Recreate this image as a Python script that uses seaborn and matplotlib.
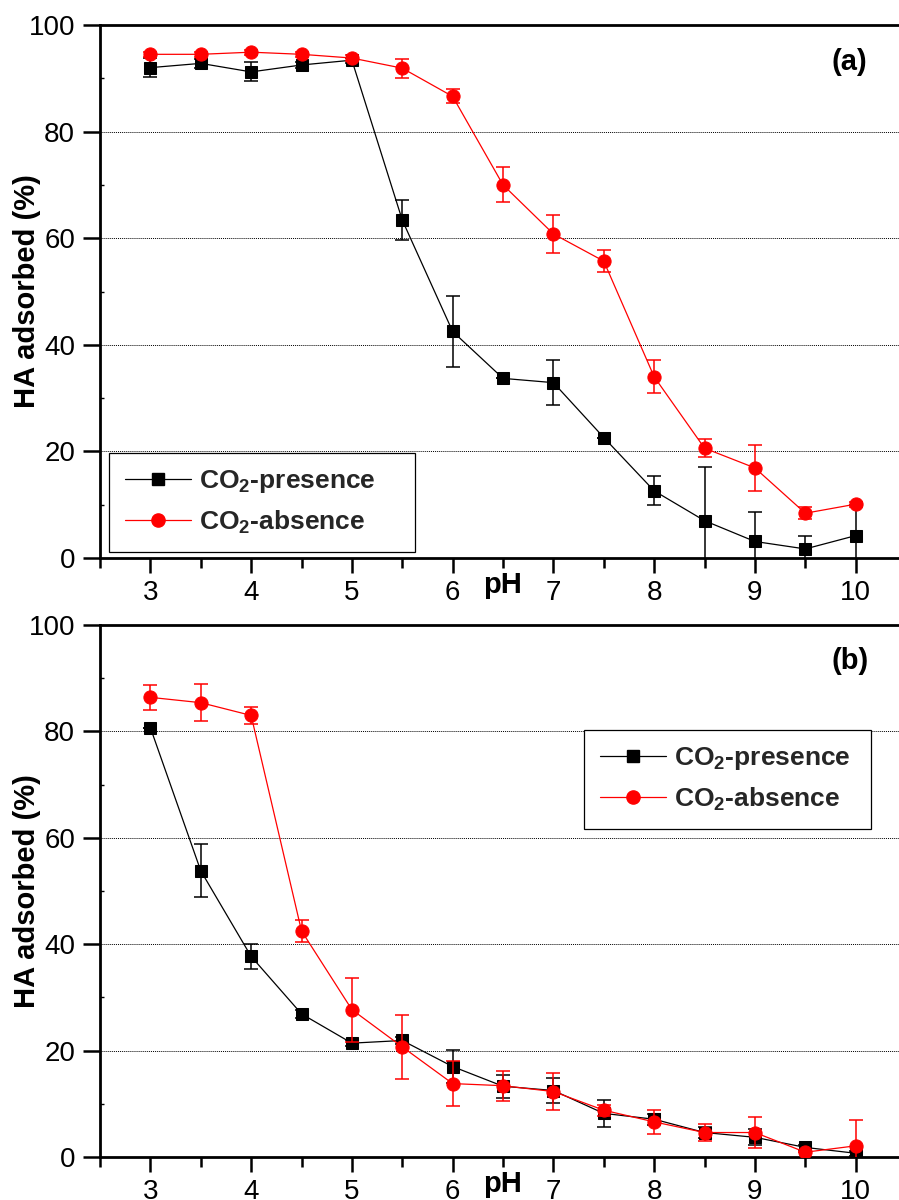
import numpy as np
import matplotlib
matplotlib.use("Agg")
import matplotlib.pyplot as plt
import matplotlib.transforms as mtrans
from matplotlib.lines import Line2D
import seaborn as sns

# ---------------- data ----------------
ph = [3, 3.5, 4, 4.5, 5, 5.5, 6, 6.5, 7, 7.5, 8, 8.5, 9, 9.5, 10]

a_presence = [92.0, 92.8, 91.2, 92.5, 93.4, 63.4, 42.5, 33.7, 32.9, 22.6, 12.6, 7.0, 3.1, 1.7, 4.2]
a_presence_err = [1.8, 0.9, 1.8, 0.6, 0.5, 3.8, 6.6, 0.0, 4.2, 0.0, 2.7, 10.0, 5.5, 2.5, 5.8]
a_absence = [94.5, 94.5, 94.9, 94.5, 93.8, 91.9, 86.6, 70.0, 60.8, 55.7, 34.0, 20.6, 16.9, 8.4, 10.1]
a_absence_err = [0.5, 0.5, 0.5, 0.5, 0.5, 1.8, 1.3, 3.3, 3.5, 2.0, 3.1, 1.7, 4.3, 1.1, 0.5]

b_presence = [80.7, 53.8, 37.7, 26.9, 21.4, 21.9, 17.0, 13.3, 12.5, 8.2, 7.1, 4.6, 3.7, 1.8, 0.7]
b_presence_err = [0.0, 5.0, 2.4, 0.7, 0.6, 0.6, 3.1, 2.2, 2.3, 2.6, 1.0, 1.0, 1.5, 0.5, 0.5]
b_absence = [86.4, 85.4, 83.0, 42.5, 27.7, 20.7, 13.8, 13.4, 12.3, 8.8, 6.6, 4.6, 4.6, 0.9, 2.1]
b_absence_err = [2.3, 3.5, 1.6, 2.0, 6.0, 6.0, 4.2, 2.8, 3.4, 1.0, 2.2, 1.6, 3.0, 0.0, 4.8]

x_ticks = [3, 4, 5, 6, 7, 8, 9, 10]
y_ticks = [0, 20, 40, 60, 80, 100]
series_labels = [r"CO$_\mathbf{2}$-presence", r"CO$_\mathbf{2}$-absence"]
panel_labels = ["(a)", "(b)"]

# ---------------- style ----------------
sns.set_theme(style="ticks")
plt.rcParams["font.family"] = ["Liberation Sans", "DejaVu Sans"]
plt.rcParams["mathtext.fontset"] = "custom"
plt.rcParams["mathtext.rm"] = "Liberation Sans"
plt.rcParams["mathtext.bf"] = "Liberation Sans:bold"
plt.rcParams["axes.edgecolor"] = "black"
plt.rcParams["xtick.color"] = "black"
plt.rcParams["ytick.color"] = "black"

BLACK = "#000000"
RED = "#ff0000"

fig = plt.figure(figsize=(8.99, 12), dpi=100)
W, H = 899.0, 1200.0
ax1 = fig.add_axes([100 / W, 1 - 558 / H, 799 / W, 533 / H])
ax2 = fig.add_axes([100 / W, 1 - 1157 / H, 799 / W, 532 / H])


def style_axes(ax):
    ax.set_xlim(2.5, 10.43)
    ax.set_ylim(0, 100)
    ax.set_xticks(x_ticks)
    ax.set_xticks(np.arange(2.5, 10.5, 0.5), minor=True)
    ax.set_yticks(y_ticks)
    ax.set_yticks([10, 30, 50, 70, 90], minor=True)
    ax.set_xticklabels([str(t) for t in x_ticks])
    ax.set_yticklabels([str(t) for t in y_ticks])
    ax.tick_params(axis="x", which="major", direction="out", length=11, width=1.8,
                   labelsize=20, pad=5)
    ax.tick_params(axis="x", which="minor", direction="out", length=7, width=1.8)
    ax.tick_params(axis="y", which="major", direction="out", length=12, width=1.8,
                   labelsize=20, pad=6)
    ax.tick_params(axis="y", which="minor", direction="in", length=3, width=1.0)
    for s in ["left", "bottom", "top"]:
        ax.spines[s].set_linewidth(2.0)
        ax.spines[s].set_color("black")
    ax.spines["right"].set_visible(False)
    ax.yaxis.grid(True, which="major", linestyle=(0, (1, 1)), color="black", linewidth=0.7)
    ax.xaxis.grid(False)
    ax.set_axisbelow(True)
    ax.set_xlabel("")
    ax.set_ylabel("")
    trans = mtrans.blended_transform_factory(ax.transData, ax.transAxes)
    ax.text(6.5, -0.05, "pH", transform=trans, ha="center", va="center",
            fontsize=21, fontweight="bold", color="black")


def draw(ax, pres, perr, absn, aerr, legend_bbox, plabel, ppos):
    ax.errorbar(ph, pres, yerr=perr, fmt="none", ecolor=BLACK, elinewidth=1.1,
                capsize=5, capthick=1.1, zorder=2)
    sns.lineplot(x=ph, y=pres, ax=ax, color=BLACK, marker="s", markersize=8.7,
                 markeredgecolor=BLACK, linewidth=0.9, zorder=3)
    ax.errorbar(ph, absn, yerr=aerr, fmt="none", ecolor=RED, elinewidth=1.1,
                capsize=5, capthick=1.1, zorder=4)
    sns.lineplot(x=ph, y=absn, ax=ax, color=RED, marker="o", markersize=9.5,
                 markeredgecolor=RED, linewidth=0.9, zorder=5)
    style_axes(ax)
    handles = [
        Line2D([], [], color=BLACK, marker="s", markersize=8.7, linewidth=0.9),
        Line2D([], [], color=RED, marker="o", markersize=9.5, linewidth=0.9),
    ]
    leg = ax.legend(handles, series_labels, loc="lower left", bbox_to_anchor=legend_bbox,
                    mode="expand", borderaxespad=0, borderpad=0.6, labelspacing=0.5,
                    handlelength=2.5, handletextpad=0.3, fancybox=False, framealpha=1,
                    edgecolor="black", prop={"weight": "bold", "size": 19})
    leg.get_frame().set_linewidth(0.9)
    ax.text(ppos[0], ppos[1], plabel, transform=ax.transAxes, ha="center", va="center",
            fontsize=21, fontweight="bold", color="black")


draw(ax1, a_presence, a_presence_err, a_absence, a_absence_err,
     (0.0113, 0.0113, 0.383, 0.2), panel_labels[0], (0.9375, 0.931))
draw(ax2, b_presence, b_presence_err, b_absence, b_absence_err,
     (0.606, 0.6165, 0.359, 0.2), panel_labels[1], (0.9387, 0.933))

for ax in (ax1, ax2):
    pos = ax.get_position()
    fig.text(27 / W, (pos.y0 + pos.y1) / 2, "HA adsorbed (%)", rotation=90,
             ha="center", va="center", fontsize=21, fontweight="bold", color="black")

fig.savefig("out.png", dpi=100)
